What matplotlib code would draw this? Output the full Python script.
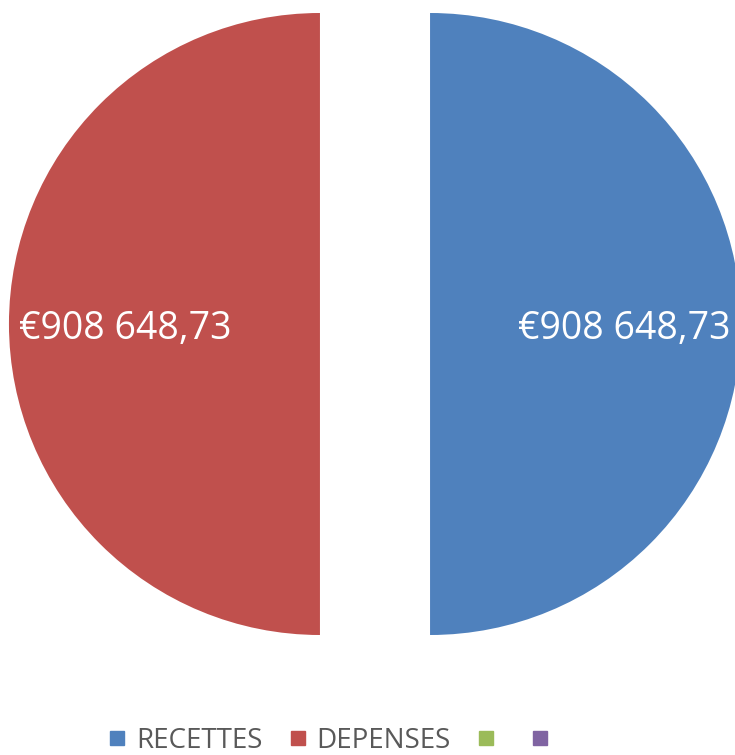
import matplotlib.pyplot as plt
from matplotlib.lines import Line2D

# data
labels = ['RECETTES', 'DEPENSES', '', '']
values = [908648.73, 908648.73, 0, 0]
colors = ['#4F81BD', '#C0504D', '#9BBB59', '#8064A2']

plt.rcParams['font.family'] = ['Open Sans', 'DejaVu Sans']


def fmt_eur(v):
    s = f'{v:,.2f}'.replace(',', ' ').replace('.', ',')
    return '€' + s


fig = plt.figure(figsize=(7.35, 7.55), dpi=100)
ax = fig.add_axes([0, 0, 1, 1])

vals = iter(values)


def autopct(p):
    v = next(vals)
    return fmt_eur(v) if v > 0 else ''


wedges, texts, autotexts = ax.pie(
    values, colors=colors, startangle=90, counterclock=False,
    explode=[0.177, 0.177, 0, 0],
    autopct=autopct, pctdistance=0.625,
    textprops=dict(color='white', fontsize=27),
)
for t in autotexts:
    x, y = t.get_position()
    t.set_position((x, y - 0.015))

# 1 data unit = 311 px, pie centre at (375, 324 from top)
ax.set_xlim(-375 / 311, (735 - 375) / 311)
ax.set_ylim(-431 / 311, 324 / 311)
ax.axis('off')

handles = [Line2D([], [], linestyle='none', marker='s', markersize=9.5,
                  markerfacecolor=c, markeredgecolor=c) for c in colors]
leg = fig.legend(handles, labels, ncol=4, loc='center',
                 bbox_to_anchor=(0.455, 0.0185), frameon=False,
                 fontsize=20, handlelength=0.55, handletextpad=0.4,
                 columnspacing=1.0, borderaxespad=0, borderpad=0)
for t in leg.get_texts():
    t.set_color('#595959')

fig.savefig('out.png', dpi=100)
